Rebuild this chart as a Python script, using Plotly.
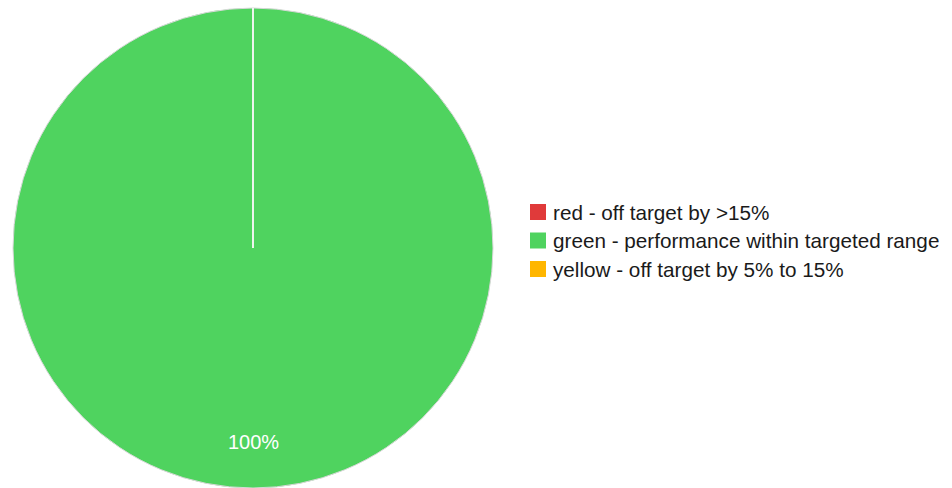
import plotly.graph_objects as go

# Status categories and their share of indicators
labels = [
    "red - off target by >15%",
    "green - performance within targeted range",
    "yellow - off target by 5% to 15%",
]
values = [0, 100, 0]
colors = ["#e03a3a", "#4fd35f", "#ffb600"]

W, H = 952, 488
cx, cy, r = 253, 248, 240  # pie centre and radius in pixels
FONT = "Liberation Sans, Arial, sans-serif"


def px(x):
    return x / W


def py(y):
    return (H - y) / H


fig = go.Figure(
    go.Pie(
        labels=labels,
        values=values,
        sort=False,
        direction="clockwise",
        rotation=0,
        marker=dict(colors=colors, line=dict(color="#d8d8d8", width=1)),
        textinfo="none",
        hoverinfo="label+percent",
        domain=dict(x=[px(cx - r), px(cx + r)], y=[py(cy + r), py(cy - r)]),
        showlegend=False,
    )
)

# percentage label for the dominant slice
total = sum(values)
main = max(range(len(values)), key=lambda i: values[i])
pct = f"{100 * values[main] / total:.0f}%"
fig.add_annotation(
    x=px(cx), y=py(cy + 194),
    xref="paper", yref="paper", xanchor="center", yanchor="middle",
    text=pct, showarrow=False,
    font=dict(family=FONT, size=20, color="white"),
)

# slice boundary at the start angle (12 o'clock)
fig.add_shape(
    type="line", xref="paper", yref="paper",
    x0=px(cx), x1=px(cx), y0=py(cy), y1=py(cy - r),
    line=dict(color="white", width=1.5),
)

# legend: colour swatch plus label for every category
leg_x, leg_y0, leg_dy, sw = 530, 212, 28.5, 16
for i, (lab, col) in enumerate(zip(labels, colors)):
    yc = leg_y0 + i * leg_dy
    fig.add_shape(
        type="rect", xref="paper", yref="paper",
        x0=px(leg_x), x1=px(leg_x + sw), y0=py(yc + sw / 2), y1=py(yc - sw / 2),
        fillcolor=col, line=dict(width=0),
    )
    fig.add_annotation(
        x=px(leg_x + sw + 5), y=py(yc), xref="paper", yref="paper",
        xanchor="left", yanchor="middle", showarrow=False,
        text=lab, font=dict(family=FONT, size=20.7, color="#1a1a1a"),
    )

fig.update_layout(
    width=W, height=H,
    margin=dict(l=0, r=0, t=0, b=0),
    paper_bgcolor="white",
    plot_bgcolor="white",
    font=dict(family=FONT, size=17, color="#1a1a1a"),
    showlegend=False,
)

fig.write_html("out.html")
